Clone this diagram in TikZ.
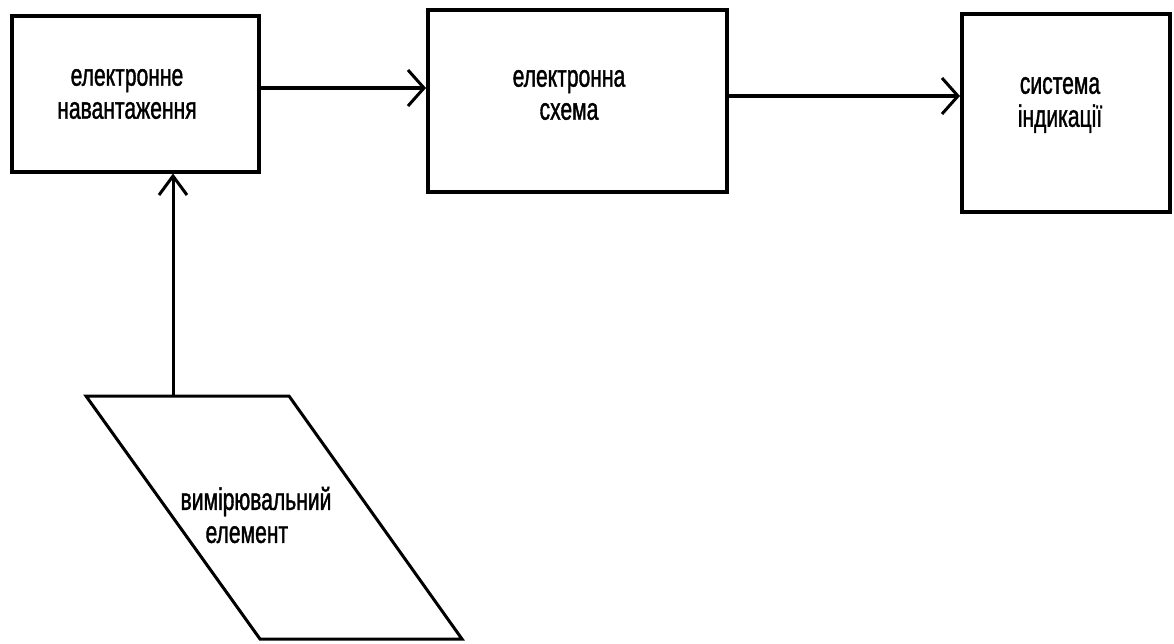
\documentclass[tikz,border=0pt]{standalone}
\usepackage{fontspec}
\setmainfont{Liberation Sans}[FakeStretch=0.68,FakeBold=1.2]
\usetikzlibrary{arrows.meta}
\begin{document}
\begin{tikzpicture}[x=1pt,y=-1pt,
  block/.style={draw,line width=3.5pt},
  label/.style={font=\fontsize{31}{33}\selectfont,align=center,inner sep=0pt},
  flow/.style={line width=3.5pt,-{Straight Barb[length=16pt,width=36pt,line width=3pt]}},
  rise/.style={line width=3pt,-{Straight Barb[length=19pt,width=28pt,line width=3pt]}}]
\useasboundingbox (0,0) rectangle (1174,643);
% blocks
\node[block,minimum width=247pt,minimum height=156pt,anchor=north west] (load) at (10,14) {};
\node[block,minimum width=299pt,minimum height=182pt,anchor=north west] (circ) at (426,8) {};
\node[block,minimum width=208pt,minimum height=198pt,anchor=north west] (ind) at (960,12) {};
\node[label] (loadtxt) at (127,94) {електронне\\навантаження};
\node[label] (circtxt) at (569,95) {електронна\\схема};
\node[label] (indtxt) at (1060,105) {система\\індикації};
% measuring element (parallelogram)
\coordinate (pa) at (86,396);
\coordinate (pb) at (289,396);
\coordinate (pc) at (462,639);
\coordinate (pd) at (260,639);
\draw[line width=3pt,line join=miter] (pa) -- (pb) -- (pc) -- (pd) -- cycle;
\draw[line width=2pt] (pa) -- (pd);
\node[label,align=left] (meas) at (256,515) {вимірювальний\\\hspace*{25pt}елемент};
\coordinate (mtop) at (173,396);
% connectors
\draw[flow] (load.east |- 0,88) -- (circ.west |- 0,88);
\draw[flow] (circ.east |- 0,96) -- (ind.west |- 0,96);
\draw[rise] (mtop) -- (mtop |- load.south);
\end{tikzpicture}
\end{document}
